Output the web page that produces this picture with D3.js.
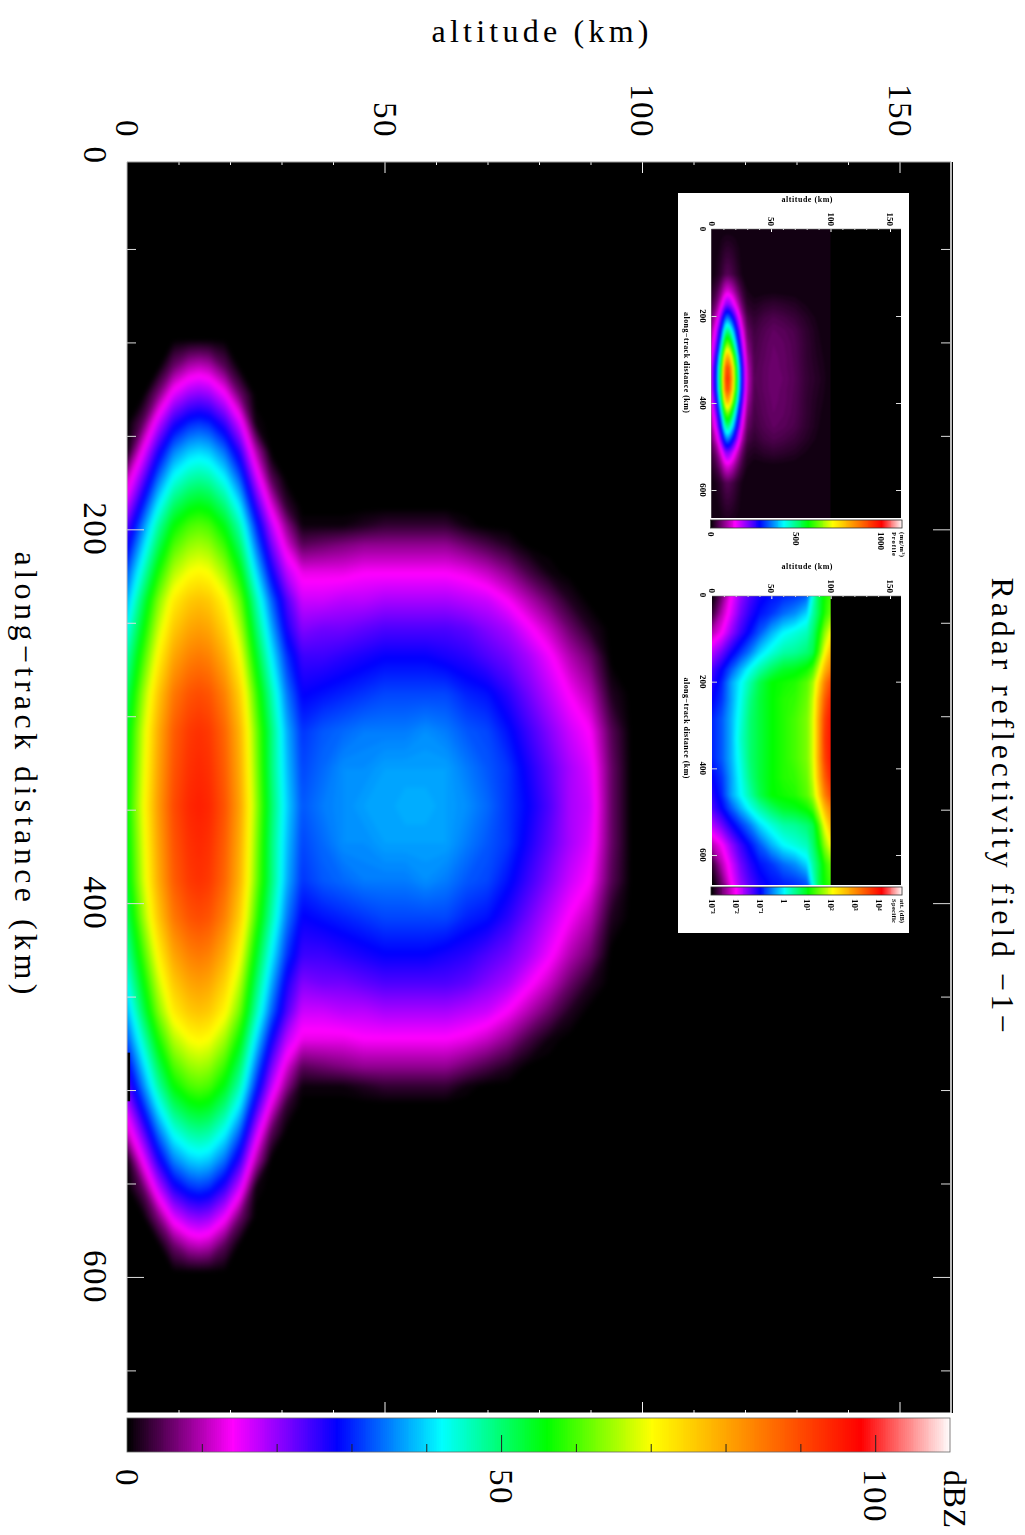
<!DOCTYPE html>
<html><head><meta charset="utf-8">
<script src="https://cdn.jsdelivr.net/npm/d3@7"></script>
<style>html,body{margin:0;background:#fff}svg{display:block}text{font-family:"Liberation Serif",serif;fill:#000}</style>
</head><body><svg id="c" width="1025" height="1535"></svg>
<script>
// ---------- main panel data (dBZ) ----------
const mainAltitudes=[0,3,6,9,12,14,16,19,22,25,28,31,34,38,42,46,50,54,58,62,66,70,74,78,82,86,90,94,98];
const mainCentreKm=348;
const mainDistFromCentre=[250,235,220,205,190,175,160,150,140,125,110,95,80,60,40,20,0];
const mainHalfField=[
[0,0,0,0,0,0,0,0,0,0,0,0,0,0,0,0,0,0,0,0,0,0,0,0,0,0,0,0,0],
[0,0,0,6,10,11,10,5,0,0,0,0,0,0,0,0,0,0,0,0,0,0,0,0,0,0,0,0,0],
[0,0,7,16,20,21,20,15,6,0,0,0,0,0,0,0,0,0,0,0,0,0,0,0,0,0,0,0,0],
[0,5,17,26,30,31,30,25,16,1,0,0,0,0,0,0,0,0,0,0,0,0,0,0,0,0,0,0,0],
[1,14,26,35,39,40,39,34,25,10,0,0,0,0,0,0,0,0,0,0,0,0,0,0,0,0,0,0,0],
[11,22,34,43,47,48,47,42,33,18,5,0,0,0,0,0,0,0,0,0,0,0,0,0,0,0,0,0,0],
[18,30,42,51,55,56,55,50,41,26,13,3,0,0,0,0,0,0,0,0,0,0,0,0,0,0,0,0,0],
[23,35,47,56,60,61,60,55,46,31,18,8,1,1,1,2,3,3,3,3,1,0,0,0,0,0,0,0,0],
[27,39,51,60,64,65,64,59,50,35,22,12,5,6,7,8,8,8,8,8,6,4,2,0,0,0,0,0,0],
[33,45,57,66,70,71,70,65,56,41,28,18,13,13,13,14,14,14,14,14,13,11,8,4,1,0,0,0,0],
[38,51,63,72,76,77,76,71,62,47,34,24,17,17,18,18,19,19,19,19,18,17,14,10,6,2,0,0,0],
[43,55,67,76,80,81,80,75,66,51,38,27,21,22,22,23,24,24,24,24,23,21,19,15,11,6,2,0,0],
[47,59,71,80,84,85,84,79,70,55,42,31,25,25,26,27,28,28,28,27,26,24,22,19,15,10,6,0,0],
[51,64,76,85,89,90,89,84,75,60,47,35,28,29,30,31,32,32,32,32,30,29,26,22,18,14,10,2,0],
[54,67,79,88,92,93,92,87,78,63,50,38,31,33,34,35,35,35,36,35,33,32,29,25,21,17,14,5,0],
[55,68,80,89,93,94,93,88,79,64,50,39,32,34,36,36,37,37,37,37,35,33,31,27,23,19,16,6,0],
[56,69,81,90,94,95,94,89,80,65,51,40,33,35,36,37,37,38,38,37,36,34,31,28,24,19,17,6,0]];

const dbzStops=[0,14,28,42,56,70,84,98,110];
const rainbow=["#000000","#ff00ff","#0000ff","#00ffff","#00ff00","#ffff00","#ff8000","#ff0000","#ffffff"];
const altitudeMajor=[50,100,150];
const altitudeMinor=[10,20,30,40,60,70,80,90,110,120,130,140,160];
const alongMajor=[200,400,600];
const alongMinor=[50,100,150,250,300,350,450,500,550,650];
const altitudeLabels=[0,50,100,150];
const alongLabels=[0,200,400,600];
const barMinor=[10,20,30,40,60,70,80,90];
const barMajor=[50,100];
const barLabels=[0,50,100];

// ---------- inset 1 (upper panel), values in the units of its colour bar ----------
const ins1Altitudes=[0,4,8,10,12,14,16,18,20,23,26,30,36,44,52,60,70,80,90,100];
const ins1CentreKm=344;
const ins1Dist=[344,240,200,170,140,110,80,50,25,0];
const ins1HalfField=[
[10,10,10,10,10,10,10,10,10,10,10,10,10,10,10,10,10,10,10,10],
[10,17,30,40,48,50,46,40,33,22,14,10,10,10,10,10,10,10,10,10],
[25,43,78,105,125,130,120,105,85,58,35,16,10,11,12,11,10,10,10,10],
[40,70,130,170,210,215,200,170,140,97,58,26,20,26,30,27,22,14,10,10],
[65,115,215,285,345,355,325,285,235,160,95,43,30,40,46,42,34,22,12,10],
[90,165,300,400,485,500,460,400,330,225,135,60,38,48,56,52,44,28,15,10],
[115,210,385,510,620,640,590,510,420,290,175,77,42,52,60,56,47,30,16,10],
[145,265,485,650,785,810,745,650,535,365,220,97,45,54,62,58,48,30,18,10],
[165,305,550,735,890,920,845,735,605,415,250,110,48,56,64,58,49,31,20,10],
[170,315,570,760,920,950,875,760,625,430,255,115,50,56,65,60,50,32,22,10]];
const ins1Stops=[0,143,286,428,571,714,857,1000,1122];
const ins1BarLabels=[0,500,1000];

// ---------- inset 2 (lower panel) ----------
const ins2Altitudes=[0,8,16,24,32,40,50,60,70,80,85,90,95,100,110];
const ins2CentreKm=332;
const ins2Dist=[332,290,245,200,160,130,90,45,0];
const ins2HalfField=[
[0,6,14,20,24,27,29,30,31,33,44,52,57,60,60],
[3,10,16,22,26,29,31,34,36,40,47,52,58,62,62],
[10,14,20,25,29,33,38,42,44,46,50,56,64,70,70],
[18,22,27,31,35,40,44,47,48,50,52,60,70,78,78],
[24,28,33,38,43,47,51,54,55,57,60,68,78,84,84],
[26,30,37,42,47,52,56,57,58,61,65,74,84,90,90],
[28,31,37,43,49,53,56,58,59,62,67,78,88,94,94],
[30,33,38,44,50,53,56,58,60,63,68,80,91,96,96],
[30,33,38,45,50,53,56,58,60,63,68,80,92,96,96]];
const ins2BarExponents=["10\u207b\u00b3","10\u207b\u00b2","10\u207b\u00b9","1","10\u00b9","10\u00b2","10\u00b3","10\u2074"];

const svg=d3.select("#c");
let clipId=0;

function mirrored(dist,centre,half){
  const km=[...dist.map(d=>centre-d),...dist.slice(0,-1).reverse().map(d=>centre+d)];
  const rows=[...half,...half.slice(0,-1).reverse()];
  return {km,rows};
}
function drawField(g,alts,km,rows,x,y,thresholds,colour,rect,blur){
  const id="clip"+(++clipId);
  svg.append("clipPath").attr("id",id).append("rect")
    .attr("x",rect[0]).attr("y",rect[1]).attr("width",rect[2]-rect[0]).attr("height",rect[3]-rect[1]);
  const m=alts.length,n=km.length;
  const values=rows.flat();
  const cx=d3.scaleLinear(alts.map((_,i)=>i+.5),alts.map(x));
  const cy=d3.scaleLinear(km.map((_,i)=>i+.5),km.map(y));
  const path=d3.geoPath(d3.geoTransform({point(a,b){this.stream.point(cx(a),cy(b));}}));
  const layer=g.append("g").attr("clip-path",`url(#${id})`).append("g").style("filter",`blur(${blur}px)`);
  layer.selectAll("path").data(d3.contours().size([m,n]).thresholds(thresholds)(values))
    .join("path").attr("d",path).attr("fill",d=>colour(d.value));
}
function rotated(g,x,y,str,o={}){
  const t=g.append("text").attr("transform",`translate(${x},${y}) rotate(${o.rot===undefined?90:o.rot})`)
    .attr("text-anchor",o.anchor||"middle").attr("dominant-baseline","central")
    .attr("font-size",o.size||30).text(str);
  if(o.len)t.attr("textLength",o.len).attr("lengthAdjust",o.adj||"spacing");
  if(o.bold)t.attr("font-weight","bold");
  if(o.ls)t.attr("letter-spacing",o.ls);
  return t;
}
function ticks(g,axis,tx,ty,col,w){
  const a=g.append("g").attr("transform",`translate(${tx},${ty})`).call(axis);
  a.select(".domain").remove();
  a.selectAll("text").remove();
  a.selectAll("line").attr("stroke",col).attr("stroke-width",w||1);
  return a;
}

// ---------- main panel ----------
const plot={l:127,r:951,t:162,b:1413};
const xAlt=d3.scaleLinear([0,150],[127,899.5]);
const yKm=d3.scaleLinear([0,650],[155.5,1370.4]);
const colour=d3.scaleLinear(dbzStops,rainbow).clamp(true);
const main=svg.append("g");
main.append("rect").attr("x",plot.l).attr("y",plot.t).attr("width",plot.r-plot.l).attr("height",plot.b-plot.t).attr("fill","#000");
const mf=mirrored(mainDistFromCentre,mainCentreKm,mainHalfField);
drawField(main,mainAltitudes,mf.km,mf.rows,xAlt,yKm,d3.range(.5,110,.5),colour,[plot.l,plot.t,plot.r,plot.b],2);
// the dropped strip on the altitude-zero edge below the core
main.append("rect").attr("x",xAlt(0)).attr("width",xAlt(0.6)-xAlt(0)).attr("y",yKm(480)).attr("height",yKm(506)-yKm(480)).attr("fill","#000");

const W="#f2f2f2";
ticks(main,d3.axisBottom(xAlt).tickValues(altitudeMinor).tickSize(3).tickFormat(""),0,plot.t,W);
ticks(main,d3.axisBottom(xAlt).tickValues(altitudeMajor).tickSize(11).tickFormat(""),0,plot.t,W);
ticks(main,d3.axisTop(xAlt).tickValues(altitudeMinor).tickSize(3).tickFormat(""),0,plot.b,W);
ticks(main,d3.axisTop(xAlt).tickValues(altitudeMajor).tickSize(11).tickFormat(""),0,plot.b,W);
ticks(main,d3.axisRight(yKm).tickValues(alongMinor).tickSize(9).tickFormat(""),plot.l,0,"#ddd");
ticks(main,d3.axisRight(yKm).tickValues(alongMajor).tickSize(17).tickFormat(""),plot.l,0,"#ddd");
ticks(main,d3.axisLeft(yKm).tickValues(alongMinor).tickSize(9).tickFormat(""),950,0,"#ddd");
ticks(main,d3.axisLeft(yKm).tickValues(alongMajor).tickSize(17).tickFormat(""),950,0,"#ddd");
main.append("line").attr("x1",plot.l).attr("x2",951).attr("y1",162).attr("y2",162).attr("stroke","#999");
main.append("line").attr("x1",127).attr("x2",127).attr("y1",162).attr("y2",1413).attr("stroke","#bbb");
main.append("line").attr("x1",951).attr("x2",951).attr("y1",162).attr("y2",1413).attr("stroke","#bbb").attr("stroke-width",2);
main.append("line").attr("x1",952.5).attr("x2",952.5).attr("y1",162).attr("y2",1413).attr("stroke","#000");
main.append("line").attr("x1",127).attr("x2",951).attr("y1",1413.5).attr("y2",1413.5).attr("stroke","#fff").attr("stroke-width",2);

altitudeLabels.forEach(v=>rotated(main,xAlt(v),138,String(v),{anchor:"end",size:33,ls:1.5}));
alongLabels.forEach(v=>rotated(main,95,yKm(v),String(v),{size:33,ls:1.5}));
rotated(main,540,31,"altitude (km)",{rot:0,size:32,len:217});
rotated(main,26,773,"along\u2212track distance (km)",{size:32,len:443});
rotated(main,1003,805,"Radar reflectivity field \u22121\u2212",{size:32,len:455});

// colour bar
const xBar=d3.scaleLinear([0,110],[127,950]);
const bar=svg.append("g");
bar.selectAll("rect").data(d3.range(0,110,.25)).join("rect")
  .attr("x",d=>xBar(d)).attr("width",xBar(.25)-xBar(0)+1).attr("y",1418).attr("height",34).attr("fill",d=>colour(d)).attr("shape-rendering","crispEdges");
bar.append("rect").attr("x",127).attr("y",1418).attr("width",823).attr("height",34).attr("fill","none").attr("stroke","#666").attr("stroke-width",.8);
ticks(bar,d3.axisTop(xBar).tickValues(barMinor).tickSize(8).tickFormat(""),0,1452,"#222");
ticks(bar,d3.axisTop(xBar).tickValues(barMajor).tickSize(17).tickFormat(""),0,1452,"#222");
barLabels.forEach(v=>rotated(bar,xBar(v),1469,String(v),{anchor:"start",size:33,ls:1.5}));
rotated(bar,955,1470,"dBZ",{anchor:"start",size:32,len:58});

// ---------- insets ----------
svg.append("rect").attr("x",678).attr("y",193).attr("width",231).attr("height",740).attr("fill","#fff");
function inset(o){
  const g=svg.append("g").style("filter","blur(.6px)");
  const x=d3.scaleLinear([0,150],[o.x0,o.x150]);
  const y=d3.scaleLinear([0,600],[o.y0,o.y600]);
  const rect=[o.x0,o.top,o.right,o.bottom];
  g.append("rect").attr("x",rect[0]).attr("y",rect[1]).attr("width",rect[2]-rect[0]).attr("height",rect[3]-rect[1]).attr("fill","#000");
  const f=mirrored(o.dist,o.centre,o.half);
  drawField(g,o.alts,f.km,f.rows,x,y,o.thresholds,o.colour,[o.x0,o.top,x(100),o.bottom],1.2);
  ticks(g,d3.axisBottom(x).tickValues(altitudeMinor).tickSize(1).tickFormat(""),0,o.top,"#fff");
  ticks(g,d3.axisBottom(x).tickValues(altitudeMajor).tickSize(3).tickFormat(""),0,o.top,"#fff");
  ticks(g,d3.axisRight(y).tickValues(alongMajor).tickSize(5).tickFormat(""),o.x0,0,"#ddd");
  ticks(g,d3.axisLeft(y).tickValues(alongMajor).tickSize(5).tickFormat(""),o.right,0,"#ddd");
  g.append("line").attr("x1",o.x0).attr("x2",o.right).attr("y1",o.top).attr("y2",o.top).attr("stroke","#888").attr("stroke-width",.6);
  const bx=d3.scaleLinear([0,1],[o.x0-1,o.right+1]);
  g.selectAll(".b").data(d3.range(0,1,.005)).join("rect")
    .attr("x",d=>bx(d)).attr("width",bx(.005)-bx(0)+.8).attr("y",o.barTop).attr("height",8).attr("fill",d=>colour(d*110)).attr("shape-rendering","crispEdges");
  g.append("rect").attr("x",bx(0)).attr("y",o.barTop).attr("width",bx(1)-bx(0)).attr("height",8).attr("fill","none").attr("stroke","#333").attr("stroke-width",.8);
  altitudeLabels.forEach(v=>rotated(g,x(v),o.top-3,String(v),{anchor:"end",size:9,bold:true}));
  alongLabels.forEach(v=>rotated(g,703,y(v),String(v),{size:9,bold:true}));
  rotated(g,807,o.top-30,"altitude (km)",{rot:0,size:8,bold:true,len:51});
  rotated(g,686,(y(200)+y(400))/2+3,"along\u2212track distance (km)",{size:8,bold:true,len:101});
  return g;
}
const c1=d3.scaleLinear(ins1Stops,rainbow).clamp(true);
const g1=inset({x0:711.5,x150:890,y0:229,y600:490,top:229,bottom:518,right:901,alts:ins1Altitudes,dist:ins1Dist,centre:ins1CentreKm,half:ins1HalfField,thresholds:d3.range(5,1122,5),colour:c1,barTop:520});
const b1=d3.scaleLinear([0,1122],[710.5,902]);
ins1BarLabels.forEach(v=>rotated(g1,b1(v),532,String(v),{anchor:"start",size:9,bold:true}));
rotated(g1,894,532,"Profile",{anchor:"start",size:6.5,bold:true,len:24});
rotated(g1,902,532,"(mg/m\u00b3)",{anchor:"start",size:6.5,bold:true,len:25});

const c2=d3.scaleLinear(dbzStops,rainbow).clamp(true);
const g2=inset({x0:712,x150:890,y0:595,y600:855,top:596,bottom:885,right:901,alts:ins2Altitudes,dist:ins2Dist,centre:ins2CentreKm,half:ins2HalfField,thresholds:d3.range(.5,110,.5),colour:c2,barTop:887});
const b2=d3.scaleLinear([0,7],[712,879]);
ins2BarExponents.forEach((s,i)=>rotated(g2,b2(i),899,s,{anchor:"start",size:9,bold:true}));
rotated(g2,894,899,"Specific",{anchor:"start",size:6.5,bold:true,len:24});
rotated(g2,902,899,"att. (dB)",{anchor:"start",size:6.5,bold:true,len:24});
</script></body></html>
